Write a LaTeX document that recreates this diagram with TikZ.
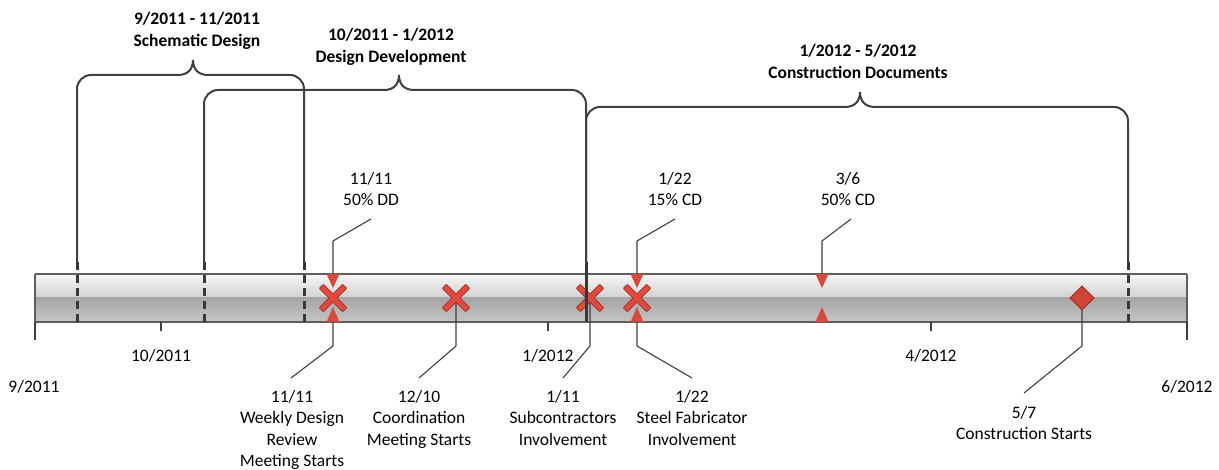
\documentclass[tikz,border=0pt]{standalone}
\usepackage{fontspec}
\setmainfont{Carlito}
\definecolor{barTop}{HTML}{F6F6F6}
\definecolor{barMidA}{HTML}{D2D2D2}
\definecolor{barMidB}{HTML}{A6A6A6}
\definecolor{barBot}{HTML}{C6C6C6}
\definecolor{lineGray}{HTML}{404040}
\definecolor{dashGray}{HTML}{383838}
\definecolor{edgeGray}{HTML}{5E5E5E}
\definecolor{markRed}{HTML}{E14A3C}
\definecolor{markEdge}{HTML}{A52B20}
\definecolor{triRed}{HTML}{D9483D}
\tikzset{
  bracketline/.style={draw=lineGray, line width=2pt},
  phasedash/.style={draw=dashGray, line width=3pt, dash pattern=on 8pt off 5pt},
  leader/.style={draw=lineGray, line width=1.1pt},
  tickline/.style={draw=lineGray, line width=1.2pt},
  lbl/.style={inner sep=0pt, align=center, font=\fontsize{17.5}{21.5}\selectfont},
  phaselbl/.style={lbl, font=\fontsize{17.5}{22.5}\selectfont\bfseries},
  xmark/.pic={
    \filldraw[fill=markRed, draw=markEdge, line width=0.8pt, rotate=45, rounded corners=0.6pt]
      (2.9,16.5)--(2.9,2.9)--(16.5,2.9)--(16.5,-2.9)--(2.9,-2.9)--(2.9,-16.5)--(-2.9,-16.5)
      --(-2.9,-2.9)--(-16.5,-2.9)--(-16.5,2.9)--(-2.9,2.9)--(-2.9,16.5)--cycle;
  },
  dmark/.pic={
    \filldraw[fill=markRed!92!black, draw=markEdge, line width=0.8pt]
      (0,-12)--(12,0)--(0,12)--(-12,0)--cycle;
  },
  tridown/.pic={
    \fill[triRed] (-6.5,0)--(6.5,0)--(0,14)--cycle;
  },
  triup/.pic={
    \fill[triRed] (-6.5,0)--(6.5,0)--(0,-15)--cycle;
  }
}
% phase bracket: left x, right x, level y, peak x
\newcommand\phasebrace[4]{%
  \draw[bracketline] (#1,262) -- (#1,#3+14)
    arc[start angle=180, end angle=270, radius=14]
    -- (#4-15,#3) .. controls (#4-5,#3) and (#4,#3-6) .. (#4,#3-15)
    .. controls (#4,#3-6) and (#4+5,#3) .. (#4+15,#3)
    -- (#2-14,#3) arc[start angle=270, end angle=360, radius=14]
    -- (#2,262);}
\begin{document}
\begin{tikzpicture}[x=1pt, y=-1pt]
\useasboundingbox (0,0) rectangle (1219,470);

% timeline bar
\shade[top color=barTop, bottom color=barMidA] (35,274) rectangle (1187,298);
\shade[top color=barMidB, bottom color=barBot] (35,298) rectangle (1187,322);
\draw[edgeGray, line width=1.2pt] (35,274) -- (1187,274);
\draw[edgeGray, line width=1.2pt] (35,322) -- (1187,322);

% axis ticks and month labels
\coordinate (axL) at (35,322);
\coordinate (axR) at (1187,322);
\draw[tickline] (axL) -- ++(0,18);
\draw[tickline] (axR) -- ++(0,18);
\draw[edgeGray, line width=1.2pt] (35,274) -- (axL) (1187,274) -- (axR);
\foreach \tx in {161, 548, 931}{
  \draw[tickline] (\tx,322) -- (\tx,331);
}
\node[lbl] (m-oct) at (161,356) {10/2011};
\node[lbl] (m-jan) at (548,356) {1/2012};
\node[lbl] (m-apr) at (931,356) {4/2012};
\node[lbl] (m-sep) at (34,387) {9/2011};
\node[lbl] (m-jun) at (1187,387) {6/2012};

% milestone positions
\coordinate (dd50) at (333,298);
\coordinate (coord) at (456,298);
\coordinate (subc) at (590,298);
\coordinate (cd15) at (637,298);
\coordinate (cd50) at (822,298);
\coordinate (cons) at (1082,298);

% leaders below the bar
\coordinate (b1) at (333,346); \coordinate (e1) at (291,378);
\coordinate (b2) at (456,346); \coordinate (e2) at (419,378);
\coordinate (b3) at (590,346); \coordinate (e3) at (563,378);
\coordinate (b4) at (637,346); \coordinate (e4) at (692,378);
\coordinate (b5) at (1082,346); \coordinate (e5) at (1024,393);
\draw[leader] (333,322) -- (b1) -- (e1);
\draw[leader] (coord) -- (b2) -- (e2);
\draw[leader] (subc) -- (b3) -- (e3);
\draw[leader] (637,322) -- (b4) -- (e4);
\draw[leader] (cons) -- (b5) -- (e5);

% leaders above the bar
\coordinate (t1) at (333,241); \coordinate (f1) at (371,219);
\coordinate (t2) at (637,241); \coordinate (f2) at (675,219);
\coordinate (t3) at (822,241); \coordinate (f3) at (851,219);
\draw[leader] (333,274) -- (t1) -- (f1);
\draw[leader] (637,274) -- (t2) -- (f2);
\draw[leader] (822,274) -- (t3) -- (f3);

% markers
\pic at (dd50) {xmark};
\pic at (coord) {xmark};
\pic at (subc) {xmark};
\pic at (cd15) {xmark};
\pic at (cons) {dmark};
\foreach \mx in {333,637,822}{
  \pic at (\mx,274) {tridown};
  \pic at (\mx,322) {triup};
}

% phase boundaries through the bar
\draw[phasedash] (77,262) -- (77,322);
\draw[phasedash] (204,262) -- (204,322);
\draw[phasedash] (304,262) -- (304,322);
\draw[phasedash] (586,262) -- (586,322);
\draw[phasedash, dash phase=6.5pt] (586,262) -- (586,322);
\draw[phasedash] (1128,262) -- (1128,322);

% phase brackets
\phasebrace{77}{304}{75}{193}
\phasebrace{204}{586}{90}{399}
\phasebrace{586}{1128}{107}{860}

% phase labels
\node[phaselbl, anchor=north] (sd) at (197,12) {9/2011 - 11/2011\\Schematic Design};
\node[phaselbl, anchor=north] (dd) at (391,28) {10/2011 - 1/2012\\Design Development};
\node[phaselbl, anchor=north] (cd) at (858,44) {1/2012 - 5/2012\\Construction Documents};

% milestone labels above
\node[lbl, anchor=north] (l-dd50) at (371,172) {11/11\\50\% DD};
\node[lbl, anchor=north] (l-cd15) at (675,172) {1/22\\15\% CD};
\node[lbl, anchor=north] (l-cd50) at (848,172) {3/6\\50\% CD};

% milestone labels below
\node[lbl, anchor=north] (l-wdr) at (292,390) {11/11\\Weekly Design\\Review\\Meeting Starts};
\node[lbl, anchor=north] (l-coord) at (419,390) {12/10\\Coordination\\Meeting Starts};
\node[lbl, anchor=north] (l-subc) at (563,390) {1/11\\Subcontractors\\Involvement};
\node[lbl, anchor=north] (l-steel) at (692,390) {1/22\\Steel Fabricator\\Involvement};
\node[lbl, anchor=north] (l-cons) at (1024,406) {5/7\\Construction Starts};
\end{tikzpicture}
\end{document}
